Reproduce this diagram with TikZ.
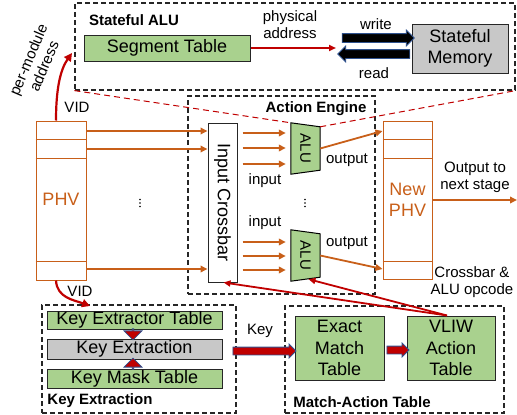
\documentclass[tikz,border=0pt]{standalone}
\usepackage{fontspec}
\setmainfont{Liberation Sans}
\usetikzlibrary{arrows.meta,shapes.arrows,calc}
\definecolor{ored}{RGB}{200,95,25}
\definecolor{dred}{RGB}{192,0,0}
\definecolor{lgreen}{RGB}{169,209,142}
\definecolor{lgray}{RGB}{200,200,200}
\definecolor{bblue}{RGB}{47,82,143}
\newcommand{\bigtxt}{\fontsize{18}{21.5}\selectfont}
\newcommand{\smtxt}{\fontsize{15}{17}\selectfont}
\begin{document}
\begin{tikzpicture}[x=1pt,y=-1pt,
  box/.style={draw=black!85, line width=1pt, inner sep=0pt, font=\bigtxt, align=center},
  gbox/.style={box, fill=lgreen},
  graybox/.style={box, fill=lgray},
  dbox/.style={draw=black!85, dash pattern=on 5pt off 3pt, line width=1.2pt, inner sep=0pt},
  obox/.style={draw=ored, line width=1pt, inner sep=0pt},
  oarr/.style={draw=ored, line width=1.8pt, -{Triangle[length=7pt,width=6.5pt]}},
  rarr/.style={draw=dred, line width=2.2pt, -{Triangle[length=8pt,width=8pt]}},
  rline/.style={draw=dred, line width=1.8pt, -{Triangle[length=7pt,width=6pt]}},
  rdash/.style={draw=dred, line width=1pt, dash pattern=on 6pt off 4pt},
  lbl/.style={font=\smtxt, inner sep=0pt, align=center},
  blbl/.style={font=\smtxt\bfseries, inner sep=0pt},
  blkarrow/.style={single arrow, draw=bblue, line width=0.8pt, inner xsep=0pt, single arrow tip angle=90},
  dot/.style={fill=black, circle, inner sep=0pt, minimum size=1.6pt},
]
\useasboundingbox (0,0) rectangle (517,415);

% ---- Stateful ALU ----
\node[dbox, minimum width=440pt, minimum height=87pt] (salu) at (295,46.5) {};
\node[blbl] (salulbl) at (134,20) {Stateful ALU};
\node[gbox, minimum width=166pt, minimum height=26pt] (seg) at (167,48) {Segment Table};
\node[graybox, minimum width=96pt, minimum height=49pt] (smem) at (460,48.5) {Stateful\\Memory};
\coordinate (paend) at (336,48);
\draw[rline] (seg.east) -- (paend);
\node[lbl] (palbl) at (290,25) {physical\\address};
\node[blkarrow, fill=black, inner ysep=4pt, single arrow head extend=3.5pt, minimum height=72pt, minimum width=15pt] (wr) at (376,38) {};
\node[blkarrow, fill=black, inner ysep=4pt, single arrow head extend=3.5pt, minimum height=72pt, minimum width=15pt, shape border rotate=180] (rd) at (376,54) {};
\node[lbl] (wrlbl) at (376,24) {write};
\node[lbl] (rdlbl) at (374,73) {read};

% ---- Action Engine ----
\node[dbox, minimum width=187pt, minimum height=198pt] (ae) at (281.5,195) {};
\node[blbl] (aelbl) at (316,109) {Action Engine};
\node[box, fill=white, minimum width=29pt, minimum height=159pt] (xbar) at (222.5,202.5) {};
\node[font=\bigtxt, rotate=-90, inner sep=0pt] (xbartxt) at (xbar) {Input Crossbar};

\node[minimum width=29pt, minimum height=51pt, inner sep=0pt] (alu1) at (305.5,148.5) {};
\draw[line width=1pt, fill=lgreen] (alu1.north west) -- ($(alu1.north east)+(0,4)$) -- ($(alu1.south east)+(0,-4)$) -- (alu1.south west) -- cycle;
\node[font=\smtxt, rotate=-90, inner sep=0pt] (alu1txt) at (alu1) {ALU};
\node[minimum width=29pt, minimum height=51pt, inner sep=0pt] (alu2) at (305.5,255.5) {};
\draw[line width=1pt, fill=lgreen] (alu2.north west) -- ($(alu2.north east)+(0,4)$) -- ($(alu2.south east)+(0,-4)$) -- (alu2.south west) -- cycle;
\node[font=\smtxt, rotate=-90, inner sep=0pt] (alu2txt) at (alu2) {ALU};

\foreach \yy in {133,148,164,242,256,270}
  \draw[oarr] ($(xbar.east |- 0,\yy)+(5,0)$) -- ($(alu1.west |- 0,\yy)+(-5,0)$);
\node[lbl] (in1) at (265,181) {input};
\node[lbl] (in2) at (265,223) {input};
\foreach \yy in {199.5,203,206.5} \node[dot] at (305,\yy) {};

% ---- PHV ----
\node[obox, minimum width=50pt, minimum height=159pt] (phv) at (61,200.5) {};
\foreach \yy in {139,158,261}
  \draw[ored, line width=1pt] (phv.west |- 0,\yy) -- (phv.east |- 0,\yy);
\node[font=\bigtxt, text=ored, inner sep=0pt] (phvtxt) at (61,199) {PHV};
\foreach \yy in {131,149,269}
  \draw[oarr] (phv.east |- 0,\yy) -- (xbar.west |- 0,\yy);
\foreach \yy in {199.5,203,206.5} \node[dot] at (140,\yy) {};

% ---- New PHV ----
\node[obox, minimum width=49pt, minimum height=158pt] (nphv) at (407.5,200) {};
\foreach \yy in {139,158,261}
  \draw[ored, line width=1pt] (nphv.west |- 0,\yy) -- (nphv.east |- 0,\yy);
\node[font=\bigtxt, text=ored, inner sep=0pt, align=center] (nphvtxt) at (407.5,200) {New\\PHV};
\draw[oarr] (alu1.east) -- (nphv.west |- 0,131);
\draw[oarr] (alu2.east) -- (nphv.west |- 0,269);
\node[lbl] (out1) at (347,160) {output};
\node[lbl] (out2) at (347,243) {output};
\coordinate (nextst) at (517,200);
\draw[oarr] (nphv.east) -- (nextst);
\node[lbl] (outlbl) at (475,177) {Output to\\next stage};
\node[lbl] (oplbl) at (472,282) {Crossbar \&\\ALU opcode};

% ---- zoom lines ----
\draw[rdash] (salu.south west) -- (alu1.north west);
\draw[rdash] ($(alu1.north east)+(0,4)$) -- (salu.south east);

% ---- VID arrows ----
\coordinate (segin) at (72,53);
\draw[rarr] ($(phv.north)+(-5,0)$) .. controls (56,90) and (60,70) .. (segin);
\node[lbl] (vid1) at (77,107) {VID};
\node[lbl, rotate=67] (pma) at (36,63) {per-module\\address};

% ---- Key Extraction ----
\node[dbox, minimum width=194pt, minimum height=108pt] (kebox) at (139,359) {};
\node[gbox, minimum width=175pt, minimum height=18pt] (ket) at (134.5,320) {Key Extractor Table};
\node[graybox, minimum width=175pt, minimum height=20pt] (kex) at (134.5,349) {Key Extraction};
\node[gbox, minimum width=175pt, minimum height=19pt] (kmt) at (134.5,378.5) {Key Mask Table};
\node[blkarrow, fill=dred, inner ysep=4.5pt, single arrow head extend=4.5pt, minimum height=11pt, minimum width=18pt, shape border rotate=270] (a1) at (133,334) {};
\node[blkarrow, fill=dred, inner ysep=4.5pt, single arrow head extend=4.5pt, minimum height=11pt, minimum width=18pt, shape border rotate=90] (a2) at (133,364) {};
\node[blbl] (kelbl) at (100,401) {Key Extraction};
\coordinate (keyin) at (90,306);
\draw[rarr] ($(phv.south)+(-5,0)$) .. controls (57,298) and (74,300) .. (keyin);
\node[lbl] (vid2) at (80,291) {VID};

% ---- Match-Action Table ----
\node[dbox, minimum width=219pt, minimum height=107pt] (matbox) at (394.5,359.5) {};
\node[gbox, minimum width=89pt, minimum height=64pt] (emt) at (339.5,348) {Exact\\Match\\Table};
\node[gbox, minimum width=88pt, minimum height=64pt] (vliw) at (451,348) {VLIW\\Action\\Table};
\node[blbl] (matlbl) at (362,402) {Match-Action Table};
\node[blkarrow, fill=dred, inner ysep=3.5pt, single arrow head extend=3pt, minimum height=63pt, minimum width=13pt] (keyarr) at (262.5,351) {};
\node[lbl] (keylbl) at (260,331) {Key};
\node[blkarrow, fill=dred, inner ysep=3.5pt, single arrow head extend=3pt, minimum height=22pt, minimum width=13pt] (emarr) at (396,350) {};

% ---- opcode lines ----
\draw[rline] ($(vliw.north)+(-4,0)$) -- ($(xbar.south)+(1,0)$);
\draw[rline] ($(vliw.north)+(-4,0)$) -- ($(alu2.south)+(3,-2)$);
\end{tikzpicture}
\end{document}
